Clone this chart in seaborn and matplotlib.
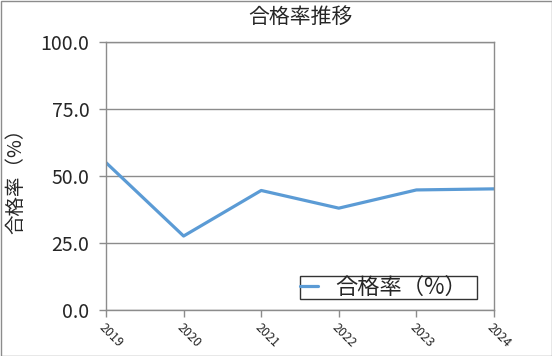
import matplotlib
matplotlib.use("Agg")
import matplotlib.pyplot as plt
import seaborn as sns
import pandas as pd
from matplotlib.patches import Rectangle

years = [2019, 2020, 2021, 2022, 2023, 2024]
pass_rate = [55.0, 27.6, 44.6, 38.0, 44.8, 45.2]
series_name = "合格率（%）"
title = "合格率推移"
ylabel = "合格率（%）"
yticks = [0, 25, 50, 75, 100]

sns.set_theme(style="white")
plt.rcParams['font.family'] = ['Noto Sans CJK JP', 'DejaVu Sans']

df = pd.DataFrame({"year": years, "rate": pass_rate})

fig = plt.figure(figsize=(5.52, 3.56), dpi=100)
ax = fig.add_axes([106/552, 1-310/356, 388/552, 268/356])

sns.lineplot(data=df, x="year", y="rate", ax=ax, color="#5b9bd5",
             linewidth=2.3, label=series_name)

ax.set_xlim(years[0], years[-1])
ax.set_ylim(0, 100)
ax.set_yticks(yticks)
ax.set_yticklabels([f"{v:.1f}" for v in yticks], fontsize=14)
ax.set_xticks(years)
ax.set_xticklabels([str(y) for y in years], rotation=-45, ha="left",
                   va="top", rotation_mode="anchor", fontsize=9)
ax.grid(axis="y", color="#8c8c8c", linewidth=1)
for s in ax.spines.values():
    s.set_color("#8c8c8c")
    s.set_linewidth(1)
ax.tick_params(axis="both", which="both", length=5, width=1, color="#8c8c8c",
               direction="out", bottom=True, left=True, pad=3)
ax.tick_params(axis="y", pad=7)
ax.set_xlabel("")
ax.set_ylabel(ylabel, fontsize=14)
ax.yaxis.set_label_coords(-0.205, 0.5)

fig.text(300/552, 1-17/356, title, ha="center", va="center", fontsize=15)

leg = ax.legend(loc="lower left", bbox_to_anchor=(0.5, 0.041, 0.456, 0.09),
                mode="expand", fontsize=16, frameon=True, fancybox=False,
                borderpad=0.0, handlelength=0.8, handletextpad=0.8,
                borderaxespad=0)
leg.get_frame().set_edgecolor("black")
leg.get_frame().set_linewidth(1)

fig.patches.append(Rectangle((0.5/552, 0.5/356), 1-1/552, 1-1/356,
                             transform=fig.transFigure, fill=False,
                             edgecolor="#8c8c8c", linewidth=1))

fig.savefig("out.png", dpi=100)
